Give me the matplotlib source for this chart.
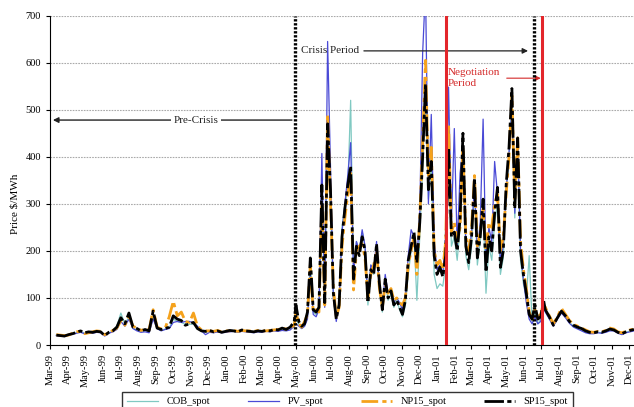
import matplotlib
matplotlib.use("Agg")
import matplotlib.pyplot as plt
import matplotlib.dates as mdates
import pandas as pd

plt.rcParams['font.family'] = ['Liberation Serif', 'DejaVu Serif']

# Sampling grids: weekly before the crisis, every 5 days during it, weekly afterwards
dates_pre = pd.date_range('1999-03-12', periods=60, freq='7D')
dates_crisis = pd.date_range('2000-05-01', periods=87, freq='5D')
dates_post = pd.date_range('2001-07-08', periods=23, freq='7D')

# Spot prices, $/MWh
sp15_pre = [21, 20, 19, 22, 24, 27, 30, 26, 28, 27,
            29, 28, 20, 27, 30, 38, 58, 45, 68, 38,
            35, 30, 33, 30, 72, 36, 33, 35, 38, 62,
            55, 52, 42, 45, 48, 35, 30, 29, 31, 28,
            30, 27, 29, 31, 30, 28, 32, 30, 29, 28,
            30, 29, 31, 30, 33, 32, 36, 33, 38, 50]
sp15_crisis = [85, 50, 40, 45, 70, 185, 75, 70, 80, 340,
               90, 470, 330, 110, 55, 85, 230, 290, 340, 380,
               140, 210, 190, 230, 200, 90, 160, 150, 215, 130,
               75, 140, 100, 115, 85, 95, 80, 65, 95, 180,
               210, 240, 175, 260, 400, 555, 330, 390, 190, 150,
               165, 145, 190, 420, 230, 240, 200, 270, 450, 210,
               175, 230, 355, 185, 230, 310, 155, 230, 200, 280,
               335, 165, 200, 340, 420, 545, 290, 440, 200, 150,
               110, 65, 55, 85, 55, 60, 95]
sp15_post = [75, 60, 42, 58, 72, 62, 50, 42, 38, 35, 30, 27,
             26, 28, 27, 30, 34, 32, 27, 24, 28, 31, 33]

np15_pre = [22, 21, 20, 21, 25, 28, 29, 24, 26, 28,
            30, 29, 22, 26, 31, 36, 52, 42, 62, 40,
            36, 31, 34, 32, 75, 38, 34, 36, 60, 93,
            62, 70, 50, 48, 68, 40, 32, 30, 30, 29,
            31, 28, 30, 30, 31, 29, 31, 30, 30, 29,
            31, 30, 30, 31, 32, 33, 35, 34, 37, 42]
np15_crisis = [70, 45, 38, 50, 65, 170, 70, 75, 70, 300,
               85, 490, 300, 120, 60, 80, 210, 270, 320, 365,
               117, 200, 210, 215, 185, 100, 150, 170, 200, 120,
               80, 130, 110, 120, 95, 100, 90, 85, 100, 170,
               200, 230, 150, 270, 430, 605, 360, 420, 200, 170,
               180, 160, 220, 470, 240, 260, 220, 250, 420, 230,
               200, 250, 360, 210, 240, 290, 200, 260, 250, 300,
               320, 200, 230, 320, 400, 530, 310, 440, 220, 160,
               120, 70, 55, 75, 60, 65, 90]
np15_post = [80, 62, 45, 60, 78, 65, 52, 44, 40, 36, 32, 28,
             27, 29, 28, 31, 36, 34, 28, 26, 29, 32, 34]

pv_pre = [20, 19, 18, 21, 23, 25, 27, 24, 26, 25,
          27, 26, 19, 25, 28, 33, 50, 40, 55, 35,
          30, 27, 28, 26, 55, 35, 30, 33, 35, 48,
          50, 48, 50, 50, 47, 40, 30, 22, 27, 26,
          28, 26, 27, 28, 29, 27, 29, 28, 27, 26,
          28, 27, 29, 28, 30, 29, 31, 30, 32, 40]
pv_crisis = [45, 40, 35, 40, 55, 150, 65, 60, 75, 407,
             80, 645, 380, 100, 50, 90, 240, 300, 360, 430,
             150, 220, 200, 245, 210, 95, 170, 160, 220, 120,
             80, 150, 110, 120, 90, 100, 90, 75, 100, 190,
             245, 230, 180, 280, 620, 760, 300, 490, 220, 160,
             170, 150, 230, 548, 260, 460, 210, 365, 420, 220,
             190, 240, 340, 200, 260, 480, 170, 250, 220, 390,
             320, 180, 210, 330, 410, 500, 280, 440, 200, 140,
             90, 55, 45, 60, 45, 50, 80]
pv_post = [70, 55, 40, 55, 68, 58, 46, 38, 34, 30, 26, 24,
           24, 26, 25, 27, 30, 30, 25, 22, 26, 28, 30]

cob_pre = [21, 20, 20, 22, 24, 26, 29, 25, 27, 26,
           28, 27, 21, 26, 29, 40, 68, 44, 60, 36,
           32, 29, 31, 29, 65, 35, 31, 34, 36, 55,
           50, 48, 44, 44, 45, 37, 31, 27, 29, 27,
           29, 27, 28, 30, 29, 27, 30, 29, 28, 27,
           29, 28, 30, 29, 31, 31, 34, 32, 36, 45]
cob_crisis = [55, 45, 35, 40, 60, 180, 70, 65, 75, 310,
              85, 450, 300, 100, 55, 95, 250, 300, 330, 520,
              150, 220, 200, 240, 210, 85, 170, 150, 200, 120,
              70, 135, 95, 110, 80, 95, 75, 60, 85, 150,
              200, 230, 95, 230, 380, 540, 310, 380, 150, 120,
              130, 125, 170, 400, 210, 230, 180, 250, 430, 190,
              160, 210, 330, 170, 220, 290, 110, 210, 180, 260,
              300, 150, 185, 320, 400, 520, 270, 420, 180, 130,
              100, 190, 50, 70, 45, 55, 85]
cob_post = [72, 58, 41, 56, 70, 60, 48, 40, 36, 33, 28, 25,
            25, 27, 26, 28, 32, 31, 26, 23, 27, 30, 32]

series_names = ['COB_spot', 'PV_spot', 'NP15_spot', 'SP15_spot']

# Event markers
crisis_start = '2000-04-30'
negotiation_start = '2001-01-17'
crisis_end = '2001-06-19'
negotiation_end = '2001-07-03'

dates = dates_pre.append(dates_crisis).append(dates_post)
cob = cob_pre + cob_crisis + cob_post
pv = pv_pre + pv_crisis + pv_post
np15 = np15_pre + np15_crisis + np15_post
sp15 = sp15_pre + sp15_crisis + sp15_post

fig = plt.figure(figsize=(6.34, 4.07), dpi=100)
ax = fig.add_axes([0.0789, 0.1523, 0.9211, 0.8094])

l_cob, = ax.plot(dates, cob, color='#80c9c2', lw=0.9, zorder=2)
l_pv, = ax.plot(dates, pv, color='#4a4ad6', lw=0.9, zorder=3)
l_np, = ax.plot(dates, np15, color='#f5a21c', lw=2.0,
                linestyle=(0, (6, 1.5, 1.5, 1.5)), zorder=4)
l_sp, = ax.plot(dates, sp15, color='black', lw=2.0,
                linestyle=(0, (7, 1.2, 1.5, 1.2)), zorder=5)

ax.set_ylim(0, 700)
ax.set_xlim(pd.Timestamp('1999-03-01'), pd.Timestamp('2001-12-09'))
ax.set_yticks(range(0, 701, 100))
ax.yaxis.grid(True, color='#aaaaaa', linestyle=(0, (1.5, 1)), lw=0.8)
ax.set_axisbelow(True)

ax.xaxis.set_major_locator(mdates.MonthLocator())
ax.xaxis.set_major_formatter(mdates.DateFormatter('%b-%y'))
ax.tick_params(axis='x', labelrotation=90, labelsize=7.5, length=3, width=0.8)
ax.tick_params(axis='y', labelsize=7.5, length=3, width=0.8)
for side in ('top', 'right'):
    ax.spines[side].set_visible(False)
for side in ('left', 'bottom'):
    ax.spines[side].set_linewidth(0.8)

ax.set_ylabel('Price \\$/MWh', fontsize=8)
ax.yaxis.set_label_coords(-0.052, 0.43)

# Period boundaries
ax.axvline(pd.Timestamp(crisis_start), color='black', lw=2.4,
           linestyle=(0, (0.7, 0.5)), zorder=6)
ax.axvline(pd.Timestamp(crisis_end), color='black', lw=2.4,
           linestyle=(0, (0.7, 0.5)), zorder=6)
ax.axvline(pd.Timestamp(negotiation_start), color='#e3262b', lw=2.2, zorder=6)
ax.axvline(pd.Timestamp(negotiation_end), color='#e3262b', lw=2.2, zorder=6)

# Pre-crisis arrow with label
ax.annotate('', xy=(pd.Timestamp('1999-03-06'), 478),
            xytext=(pd.Timestamp('2000-04-24'), 478),
            arrowprops=dict(arrowstyle='-|>', color='#222222', lw=1.0,
                            mutation_scale=8, shrinkA=0, shrinkB=0))
ax.text(pd.Timestamp('1999-11-09'), 478, 'Pre-Crisis', fontsize=8,
        ha='center', va='center', color='#222222', zorder=7,
        bbox=dict(facecolor='white', edgecolor='none', pad=2))

# Crisis period label and arrow
ax.text(pd.Timestamp('2000-05-09'), 625, 'Crisis Period', fontsize=8,
        ha='left', va='center', color='#222222', zorder=7)
ax.annotate('', xy=(pd.Timestamp('2001-06-08'), 625),
            xytext=(pd.Timestamp('2000-08-27'), 625),
            arrowprops=dict(arrowstyle='-|>', color='#222222', lw=0.9,
                            mutation_scale=8, shrinkA=0, shrinkB=0))

# Negotiation period label and arrow
ax.text(pd.Timestamp('2001-01-20'), 588, 'Negotiation\nPeriod', fontsize=8,
        ha='left', va='top', color='#d42a2a', linespacing=1.2, zorder=7)
ax.annotate('', xy=(pd.Timestamp('2001-06-30'), 567),
            xytext=(pd.Timestamp('2001-05-02'), 567),
            arrowprops=dict(arrowstyle='-|>', color='#d42a2a', lw=0.8,
                            mutation_scale=7, shrinkA=0, shrinkB=0))

fig.legend([l_cob, l_pv, l_np, l_sp], series_names, loc='upper left',
           bbox_to_anchor=(122 / 634, 0.0, (573 - 122) / 634, 1 - 392 / 407),
           mode='expand', ncol=4, fontsize=7.5, frameon=True, fancybox=False,
           edgecolor='black', handlelength=3.0, borderpad=0.5,
           borderaxespad=0.0)

fig.savefig('out.png', dpi=100)
